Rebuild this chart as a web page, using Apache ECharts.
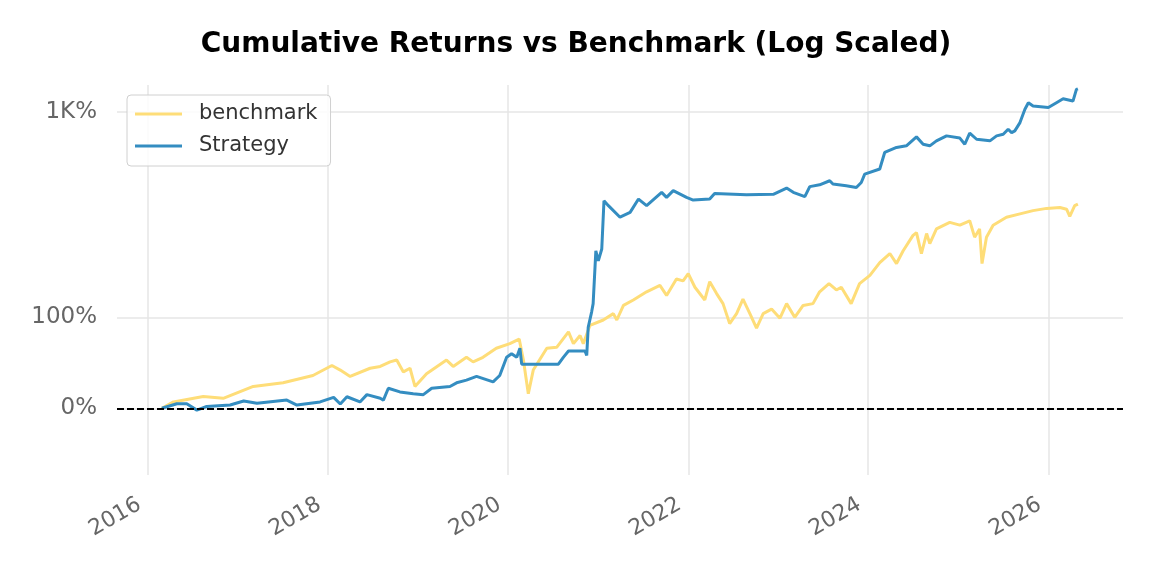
<!DOCTYPE html>
<html>
<head>
<meta charset="utf-8">
<title>Cumulative Returns vs Benchmark (Log Scaled)</title>
<script src="https://cdn.jsdelivr.net/npm/echarts@6/dist/echarts.min.js"></script>
<style>
  html, body { margin: 0; padding: 0; background: #fff; }
  #chart { width: 1152px; height: 576px; }
</style>
</head>
<body>
<div id="chart"></div>
<script>
// cumulative returns in percent
const benchDates = [
  '2016-02-26', '2016-04-13', '2016-08-12', '2016-11-01', '2017-03-03', '2017-07-02',
  '2017-10-31', '2018-01-16', '2018-02-19', '2018-03-31', '2018-06-20', '2018-07-31',
  '2018-09-09', '2018-10-06', '2018-11-02', '2018-11-29', '2018-12-19', '2019-02-04',
  '2019-04-26', '2019-05-23', '2019-07-16', '2019-08-12', '2019-09-21', '2019-11-14',
  '2020-01-08', '2020-02-15', '2020-03-03', '2020-03-23', '2020-04-12', '2020-06-06',
  '2020-07-16', '2020-09-02', '2020-09-22', '2020-10-19', '2020-11-01', '2020-11-28',
  '2021-01-21', '2021-03-03', '2021-03-17', '2021-04-13', '2021-05-23', '2021-07-16',
  '2021-09-08', '2021-10-05', '2021-11-14', '2021-12-11', '2022-01-01', '2022-01-28',
  '2022-03-09', '2022-03-29', '2022-04-26', '2022-05-22', '2022-06-18', '2022-07-16',
  '2022-08-11', '2022-09-08', '2022-10-05', '2022-11-01', '2022-12-05', '2023-01-08',
  '2023-02-04', '2023-03-09', '2023-04-12', '2023-05-22', '2023-06-18', '2023-07-26',
  '2023-08-25', '2023-09-14', '2023-10-24', '2023-11-27', '2024-01-08', '2024-02-17',
  '2024-03-29', '2024-04-25', '2024-05-22', '2024-07-01', '2024-07-15', '2024-08-04',
  '2024-08-25', '2024-09-07', '2024-10-04', '2024-11-27', '2025-01-07', '2025-02-16',
  '2025-03-08', '2025-03-28', '2025-04-07', '2025-04-25', '2025-05-22', '2025-07-15',
  '2025-09-08', '2025-10-31', '2025-12-25', '2026-02-17', '2026-03-16', '2026-03-29',
  '2026-04-18', '2026-05-01'
];
const benchReturns = [
  0, 7, 13, 11, 24, 28,
  36, 47, 42, 35, 44, 46,
  51, 53, 40, 44, 24, 38,
  53, 46, 56, 51, 56, 66,
  71, 76, 53, 16, 42, 66,
  67, 84, 71, 80, 71, 91,
  97, 104, 97, 113, 119, 128,
  135, 124, 142, 140, 148, 133,
  119, 139, 126, 115, 93, 104,
  120, 104, 88, 104, 109, 99,
  115, 100, 113, 115, 128, 137,
  130, 133, 115, 137, 146, 160,
  170, 159, 173, 190, 193, 170,
  192, 181, 197, 211, 203, 216,
  188, 197, 159, 188, 203, 227,
  238, 249, 257, 260, 254, 230,
  267, 273
];

const stratDates = [
  '2016-02-26', '2016-04-27', '2016-06-06', '2016-07-17', '2016-08-26', '2016-11-29',
  '2017-01-23', '2017-03-18', '2017-07-17', '2017-08-27', '2017-11-29', '2018-01-23',
  '2018-02-19', '2018-03-18', '2018-05-10', '2018-06-07', '2018-07-31', '2018-08-13',
  '2018-09-02', '2018-10-19', '2018-12-12', '2019-01-22', '2019-02-25', '2019-05-10',
  '2019-06-06', '2019-07-16', '2019-08-26', '2019-11-01', '2019-11-28', '2019-12-26',
  '2020-01-15', '2020-02-05', '2020-02-18', '2020-02-25', '2020-07-23', '2020-08-12',
  '2020-09-02', '2020-11-08', '2020-11-15', '2020-11-21', '2020-12-05', '2020-12-11',
  '2020-12-22', '2021-01-01', '2021-01-15', '2021-01-24', '2021-02-11', '2021-03-30',
  '2021-05-10', '2021-06-13', '2021-07-16', '2021-09-15', '2021-10-05', '2021-11-01',
  '2021-12-25', '2022-01-21', '2022-03-29', '2022-04-18', '2022-08-25', '2022-12-12',
  '2023-02-04', '2023-03-03', '2023-04-19', '2023-05-09', '2023-06-18', '2023-07-29',
  '2023-08-11', '2023-10-04', '2023-11-14', '2023-12-04', '2023-12-18', '2024-02-17',
  '2024-03-08', '2024-04-25', '2024-06-04', '2024-07-15', '2024-08-11', '2024-09-07',
  '2024-10-04', '2024-11-14', '2025-01-07', '2025-01-27', '2025-02-16', '2025-03-16',
  '2025-05-09', '2025-06-05', '2025-07-02', '2025-07-22', '2025-08-05', '2025-08-18',
  '2025-09-08', '2025-09-28', '2025-10-12', '2025-10-31', '2026-01-01', '2026-02-03',
  '2026-03-02', '2026-04-11', '2026-04-25', '2026-05-01'
];
const stratReturns = [
  0, 5, 5, -2, 2, 3.6,
  8, 5.5, 9, 3.6, 7, 12,
  4.7, 12.7, 7, 15, 11, 9,
  22, 18, 16, 15, 22, 24,
  28, 31, 35, 29, 36, 56,
  60, 56, 66, 48.5, 48.5, 56,
  63, 63, 58, 89, 106, 115,
  173, 162, 175, 286, 267, 227,
  243, 293, 267, 322, 300, 330,
  300, 289, 293, 317, 311, 313,
  342, 322, 303, 349, 358, 379,
  362, 353, 345, 370, 416, 447,
  564, 605, 619, 702, 633, 619,
  664, 712, 690, 633, 740, 679,
  664, 712, 728, 782, 745, 764,
  858, 1035, 1135, 1084, 1060, 1135,
  1200, 1161, 1369, 1380
];

const yTickValues = [0, 100, 1000];
const yTickLabels = ['0%', '100%', '1K%'];
const xTickYears = [2016, 2018, 2020, 2022, 2024, 2026];

// matplotlib symlog, linthresh = 2 (200%), base 10, linscale 1
function symlog(pct) {
  const v = pct / 100;
  const adj = 1 / (1 - 1 / 10);
  const a = Math.abs(v);
  if (a <= 2) return v * adj;
  return Math.sign(v) * 2 * (adj + Math.log10(a / 2));
}

function ts(s) {
  const p = s.split('-').map(Number);
  return Date.UTC(p[0], p[1] - 1, p[2]);
}

const yTicks = yTickValues.map(symlog);
const xTicks = xTickYears.map(y => Date.UTC(y, 0, 1));

const chart = echarts.init(document.getElementById('chart'));

chart.setOption({
  animation: false,
  backgroundColor: '#fff',
  textStyle: { fontFamily: 'DejaVu Sans' },
  title: {
    text: 'Cumulative Returns vs Benchmark (Log Scaled)',
    left: 'center',
    top: 26,
    textStyle: { fontFamily: 'DejaVu Sans', fontWeight: 'bold', fontSize: 28, color: '#000' }
  },
  legend: {
    orient: 'vertical',
    left: 127,
    top: 95,
    padding: [8, 13, 9, 8],
    itemGap: 10,
    itemWidth: 47,
    itemHeight: 3,
    icon: 'rect',
    borderColor: '#d0d0d0',
    borderWidth: 1,
    borderRadius: 4,
    backgroundColor: 'rgba(255,255,255,0.85)',
    textStyle: { fontSize: 21, color: '#333', padding: [0, 0, 0, 12], lineHeight: 22 },
    data: ['benchmark', 'Strategy']
  },
  grid: { left: 117, right: 29, top: 85, bottom: 101 },
  xAxis: {
    type: 'value',
    min: Date.UTC(2015, 7, 28),
    max: Date.UTC(2026, 9, 31),
    axisLine: { show: false },
    axisTick: { show: false, customValues: xTicks },
    axisLabel: {
      customValues: xTicks,
      rotate: 30,
      fontSize: 22,
      color: '#666',
      margin: 23,
      padding: [0, 10, 0, 0],
      formatter: v => String(new Date(v).getUTCFullYear())
    },
    splitLine: { show: true, lineStyle: { color: '#e6e6e6', width: 1.5 } }
  },
  yAxis: {
    type: 'value',
    min: -0.814,
    max: 3.946,
    axisLine: { show: false },
    axisTick: { show: false, customValues: yTicks },
    axisLabel: {
      customValues: yTicks,
      fontSize: 23,
      color: '#666',
      margin: 20,
      formatter: v => {
        const i = yTicks.findIndex(t => Math.abs(t - v) < 1e-6);
        return i >= 0 ? yTickLabels[i] : '';
      }
    },
    splitLine: { show: true, lineStyle: { color: '#e6e6e6', width: 1.5 } }
  },
  series: [
    {
      name: 'benchmark',
      type: 'line',
      showSymbol: false,
      color: '#fedd78',
      lineStyle: { width: 3, color: '#fedd78' },
      data: benchDates.map((d, i) => [ts(d), symlog(benchReturns[i])]),
      z: 2
    },
    {
      name: 'Strategy',
      type: 'line',
      showSymbol: false,
      color: '#348dc1',
      lineStyle: { width: 3, color: '#348dc1' },
      data: stratDates.map((d, i) => [ts(d), symlog(stratReturns[i])]),
      z: 3,
      markLine: {
        silent: true,
        symbol: 'none',
        label: { show: false },
        lineStyle: { color: '#000', type: [7, 3], width: 2 },
        data: [{ yAxis: 0 }]
      }
    }
  ]
});
</script>
</body>
</html>
